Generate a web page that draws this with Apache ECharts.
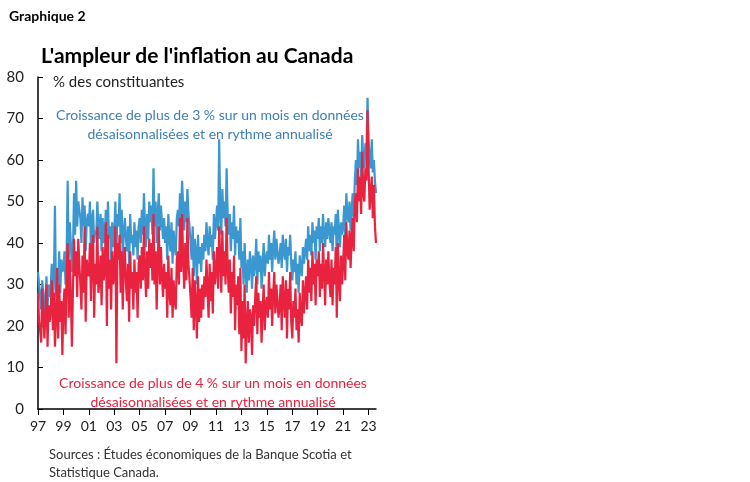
<!DOCTYPE html>
<html><head><meta charset="utf-8">
<script src="https://cdn.jsdelivr.net/npm/echarts@6/dist/echarts.min.js"></script>
<style>body{margin:0;background:#fff}#c{width:750px;height:482px}</style>
</head><body><div id="c"></div>
<script>
// Monthly share of CPI components (%), Jan 1997 - Jun 2023
var above3 = [
  33,30,27,24,31,28,22,26,32,24,30,27,
  29,35,26,31,49,27,33,30,38,28,36,33,
  34,38,30,37,55,36,45,40,33,38,52,42,
  55,44,50,48,46,40,51,44,49,38,45,47,
  44,50,38,46,48,40,43,42,50,44,41,47,
  38,46,40,42,48,37,50,41,44,36,45,39,
  42,50,38,47,44,52,40,48,36,43,46,41,
  38,44,35,47,40,42,37,45,39,43,36,44,
  46,40,48,42,52,44,39,47,41,50,45,49,
  42,58,44,50,40,47,52,43,49,45,41,46,
  40,44,36,47,41,38,45,35,43,39,37,46,
  48,44,52,46,55,49,43,50,45,53,47,44,
  40,36,44,32,41,38,30,42,35,39,33,40,
  36,42,38,45,40,37,44,39,42,36,47,41,
  45,49,43,65,47,42,53,46,50,44,58,47,
  42,47,38,45,41,49,37,44,40,43,36,46,
  34,38,30,40,33,28,36,31,38,35,29,37,
  32,35,41,30,38,33,37,29,35,40,32,36,
  38,35,42,36,40,33,39,43,36,41,38,35,
  37,40,34,42,38,36,41,33,39,37,42,35,
  31,36,33,38,30,35,28,37,34,32,39,35,
  38,41,36,44,38,42,37,45,40,43,36,44,
  41,46,38,44,40,47,42,39,45,41,46,43,
  40,45,38,44,42,47,36,48,43,39,45,42,
  44,49,40,52,47,45,50,43,48,52,46,55,
  60,54,65,58,62,56,66,60,58,64,62,75,
  65,60,58,65,57,60,55,52
];
var above4 = [
  28,21,19,16,29,23,17,22,30,15,25,21,
  24,31,19,28,15,22,34,17,30,21,26,13,
  25,29,18,33,40,22,36,27,15,29,41,32,
  38,27,41,35,30,24,37,28,44,21,36,33,
  32,40,26,38,42,22,35,30,44,28,31,37,
  25,39,31,34,45,20,42,29,36,24,38,30,
  33,44,11,40,36,42,28,38,24,35,39,30,
  26,35,21,38,29,33,24,36,28,33,22,35,
  37,29,39,31,44,33,27,38,29,41,34,40,
  31,47,30,38,24,36,44,30,39,32,27,35,
  29,33,22,37,28,25,34,22,31,26,24,36,
  38,30,46,33,47,36,29,40,31,46,35,31,
  27,22,34,19,31,25,17,32,21,29,22,30,
  24,32,27,36,29,22,35,26,33,23,38,30,
  33,39,29,44,36,28,43,32,38,30,46,34,
  28,36,23,33,27,37,19,30,25,32,18,34,
  14,26,17,30,11,20,26,16,24,22,13,25,
  20,27,32,18,28,22,26,16,24,30,19,25,
  27,22,33,24,29,20,28,33,23,30,26,22,
  25,30,19,32,26,22,31,17,29,24,33,21,
  17,26,22,29,19,24,16,28,22,20,31,23,
  28,32,24,36,28,34,26,38,30,35,25,36,
  32,38,27,35,29,40,33,25,36,30,38,31,
  27,36,25,34,30,39,22,40,31,26,37,30,
  35,42,31,45,38,36,43,34,41,46,38,50,
  52,45,58,50,56,47,62,52,50,58,55,72,
  58,48,52,56,46,54,44,40
];
var years = [];
for (var y = 1997; y <= 2023; y++) {
  for (var m = 1; m <= 12; m++) {
    if (years.length < above3.length) years.push(String(y).slice(2) + '-' + m);
  }
}
var ff = 'Lato, "Open Sans", sans-serif';
var chart = echarts.init(document.getElementById('c'));
chart.setOption({
  animation: false,
  textStyle: {fontFamily: ff},
  title: [
    {text: 'Graphique 2', left: 4, top: 4, textStyle: {fontSize: 14, fontWeight: 'bold', color: '#000', fontFamily: ff}},
    {text: "L'ampleur de l'inflation au Canada", left: 36, top: 41, textStyle: {fontSize: 21, fontWeight: 'bold', color: '#000', fontFamily: ff}},
    {text: '% des constituantes', left: 48, top: 70, textStyle: {fontSize: 15, fontWeight: 'normal', color: '#222', fontFamily: ff}},
    {text: 'Croissance de plus de 3 % sur un mois en données\ndésaisonnalisées et en rythme annualisé', left: 205, textAlign: 'center', top: 101,
     textStyle: {fontSize: 14, fontWeight: 'normal', color: '#3c7fb4', lineHeight: 19, fontFamily: ff}},
    {text: 'Croissance de plus de 4 % sur un mois en données\ndésaisonnalisées et en rythme annualisé', left: 208, textAlign: 'center', top: 369,
     textStyle: {fontSize: 14, fontWeight: 'normal', color: '#e8223f', lineHeight: 19, fontFamily: ff}},
    {text: 'Sources : Études économiques de la Banque Scotia et\nStatistique Canada.', left: 44, top: 441,
     textStyle: {fontSize: 13, fontWeight: 'normal', color: '#333', lineHeight: 18, fontFamily: ff}}
  ],
  grid: {left: 38, top: 77, width: 338, height: 332},
  xAxis: {
    type: 'category', data: years, boundaryGap: false,
    axisLine: {lineStyle: {color: '#000', width: 1.5}},
    axisTick: {interval: 23, length: 6, lineStyle: {color: '#000'}},
    axisLabel: {interval: 23, color: '#222', fontSize: 14, margin: 10, formatter: function (v) { return v.split('-')[0]; }}
  },
  yAxis: {
    type: 'value', min: 0, max: 80, interval: 10,
    splitLine: {show: false},
    axisLine: {show: true, lineStyle: {color: '#000', width: 1.5}},
    axisTick: {show: true, inside: true, length: 5, lineStyle: {color: '#000'}},
    axisLabel: {color: '#222', fontSize: 15, margin: 14}
  },
  series: [
    {type: 'line', data: above3, symbol: 'none', lineStyle: {color: '#3b97cf', width: 2.2}},
    {type: 'line', data: above4, symbol: 'none', lineStyle: {color: '#e8223f', width: 2.2}}
  ]
});
</script></body></html>
